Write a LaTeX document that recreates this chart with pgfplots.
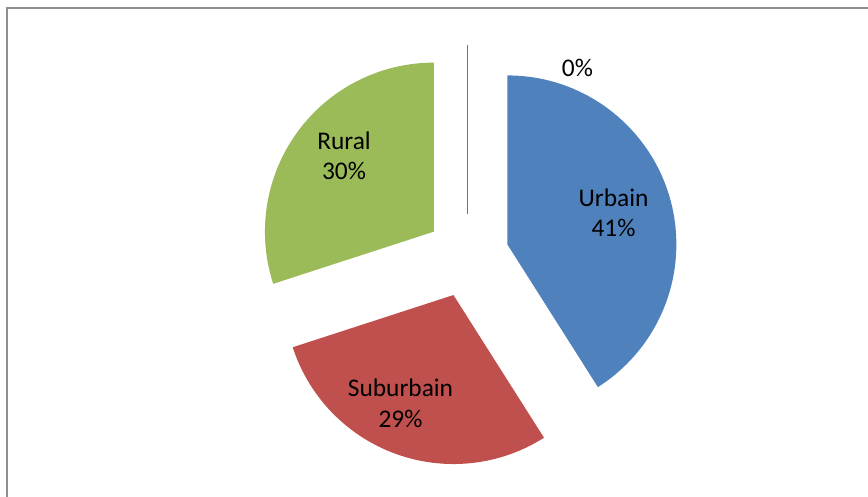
\documentclass[border=0pt]{standalone}
\usepackage{fontspec}
\setmainfont{Carlito}
\usepackage{pgfplots}
\pgfplotsset{compat=1.18}

\definecolor{urb}{HTML}{4F81BD}
\definecolor{sub}{HTML}{C0504D}
\definecolor{rur}{HTML}{9BBB59}
\definecolor{zer}{HTML}{8064A2}
\definecolor{frame}{HTML}{8E8E8E}

% shares in percent (Excel order: from 12 o'clock, clockwise)
\def\vUrb{41}
\def\vSub{29}
\def\vRur{30}
\def\vZer{0}

% pie geometry in axis units (1 unit = 1bp)
\def\cx{467.5}\def\cy{241}\def\R{169}\def\D{41.5}

% one exploded slice: start angle, end angle, colour
\newcommand\slice[3]{%
  \pgfmathsetmacro\mid{(#1+#2)/2}%
  \pgfmathsetmacro\px{\cx+\D*cos(\mid)}%
  \pgfmathsetmacro\py{\cy+\D*sin(\mid)}%
  \edef\temp{\noexpand\fill[#3] (axis cs:\px,\py) -- ++(#1:\R bp)
    arc[start angle=#1,end angle=#2,radius=\R bp] -- cycle;}%
  \temp}

\begin{document}
\begin{tikzpicture}
\path[use as bounding box] (0,0) rectangle (868bp,497bp);
\draw[frame, line width=2bp] (7bp,0) -- (7bp,488.5bp) -- (868bp,488.5bp);
\pgfmathsetmacro\aA{90}
\pgfmathsetmacro\aB{\aA-\vUrb*3.6}
\pgfmathsetmacro\aC{\aB-\vSub*3.6}
\pgfmathsetmacro\aD{\aC-\vRur*3.6}
\begin{axis}[
    at={(0,0)}, anchor=south west,
    width=868bp, height=497bp, scale only axis,
    xmin=0, xmax=868, ymin=0, ymax=497,
    hide axis, clip=false,
  ]
\slice{\aA}{\aB}{urb}
\slice{\aB}{\aC}{sub}
\slice{\aC}{\aD}{rur}
\draw[zer, line width=1.2bp] (axis cs:\cx,\cy+\D) -- ++(90:\R bp);

\begin{scope}[every node/.style={anchor=base, font=\fontsize{25.5}{30}\selectfont}]
\node at (axis cs:613.5,290.3) {Urbain};
\node at (axis cs:613.5,260) {41\%};
\node at (axis cs:400.5,100) {Suburbain};
\node at (axis cs:400.5,69) {29\%};
\node at (axis cs:344,347.7) {Rural};
\node at (axis cs:344,317) {30\%};
\node at (axis cs:577.5,420.3) {0\%};
\end{scope}
\end{axis}
\end{tikzpicture}
\end{document}
